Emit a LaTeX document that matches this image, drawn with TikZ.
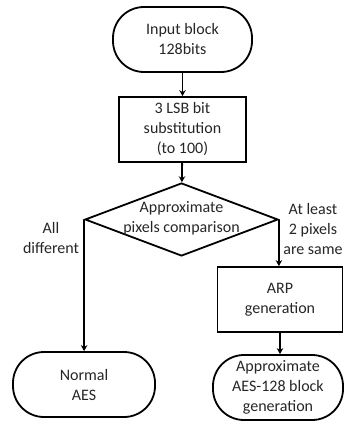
\documentclass[tikz,border=0pt]{standalone}
\usepackage{fontspec}
\setmainfont{Carlito}
\usetikzlibrary{shapes.geometric,arrows.meta}
\begin{document}
\begin{tikzpicture}[x=1pt,y=-1pt,
  every node/.style={font=\fontsize{16}{20}\selectfont, text=black!85, align=center},
  term/.style={draw, line width=1.8pt, rounded corners=31pt, inner sep=0pt},
  procbox/.style={draw, line width=1.8pt, inner sep=0pt},
  decision/.style={draw, diamond, line width=1.8pt, inner sep=0pt, minimum width=193pt, minimum height=73pt},
  conn/.style={line width=1.8pt, -{Stealth[length=6pt,width=6.5pt]}},
  lbl/.style={inner sep=0pt}]
\useasboundingbox (0,0) rectangle (344,423);
\node[term, minimum width=139pt, minimum height=65pt] (in) at (182.5,39.5) {Input block\\128bits};
\node[procbox, minimum width=127pt, minimum height=65pt] (lsb) at (182.5,129.5) {3 LSB bit\\substitution\\(to 100)};
\node[decision] (d) at (181.5,219.5) {};
\node[lbl] (dt) at (181.5,218) {Approximate\\pixels comparison};
\node[procbox, minimum width=125pt, minimum height=65pt] (arp) at (280,299.5) {ARP\\generation};
\node[term, minimum width=142pt, minimum height=65pt] (aes) at (84,384.5) {Normal\\AES};
\node[term, minimum width=130pt, minimum height=65pt] (appr) at (278,387.5) {Approximate\\AES-128 block\\generation};
\node[lbl] (l1) at (51,238) {All\\different};
\node[lbl] (l2) at (313,229) {At least\\2 pixels\\are same};
\draw[conn] (in) -- (lsb);
\draw[conn] (lsb) -- (d);
\draw[conn] (d.west) -- (d.west |- aes.north);
\draw[conn] (d.east) -- (d.east |- arp.north);
\draw[conn] (arp.south) -- (arp.south |- appr.north);
\end{tikzpicture}
\end{document}
